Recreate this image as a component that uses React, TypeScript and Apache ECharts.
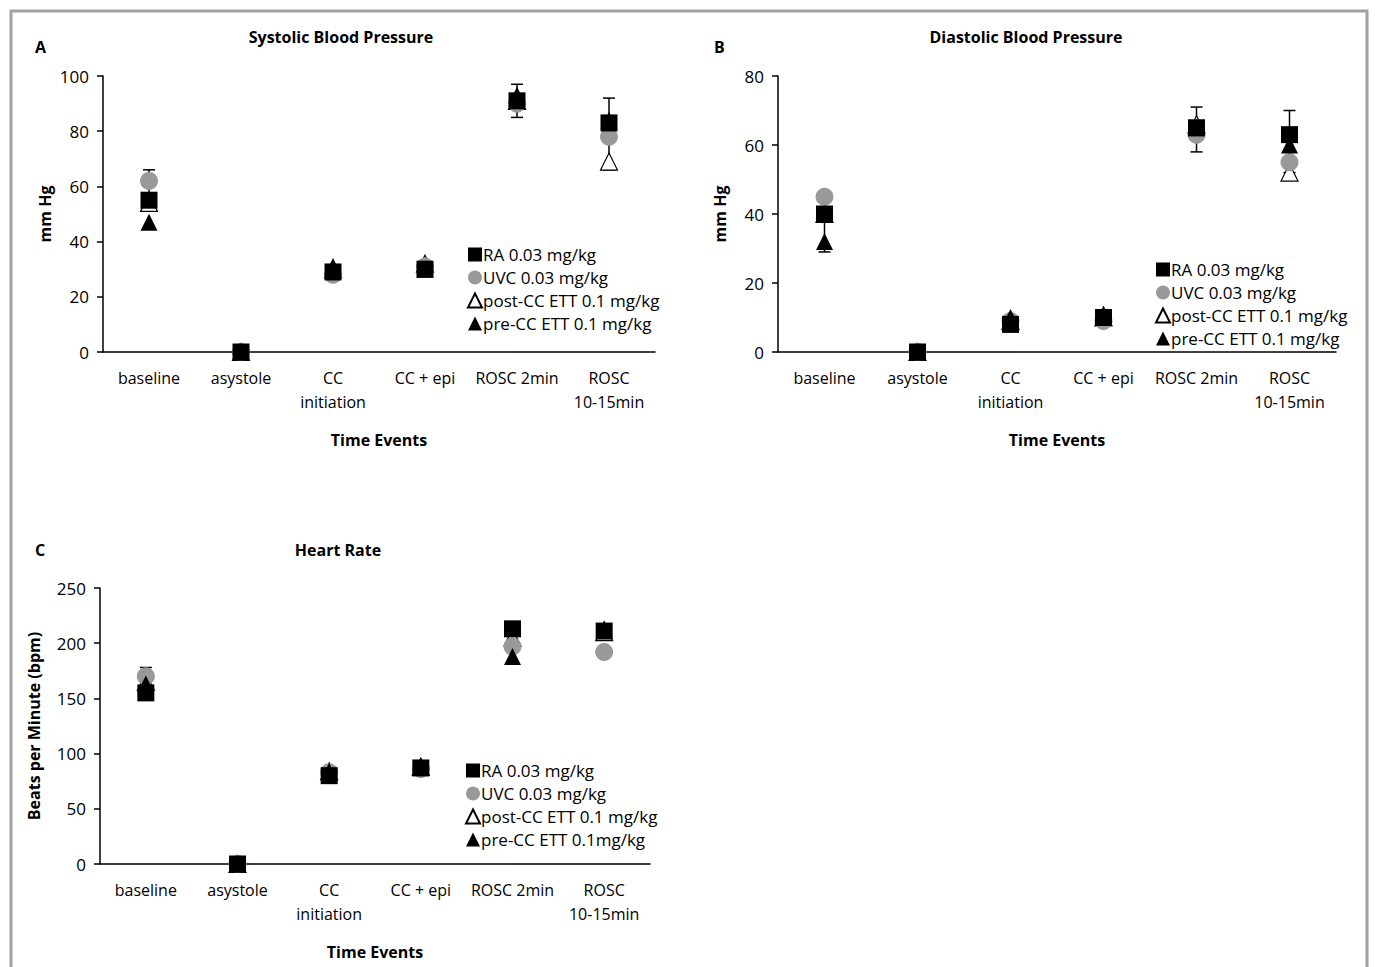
import React, { useEffect, useRef } from 'react';
import * as echarts from 'echarts';

const categories = ['baseline', 'asystole', 'CC\ninitiation', 'CC + epi', 'ROSC 2min', 'ROSC\n10-15min'];
const seriesNames = ['RA 0.03 mg/kg', 'UVC 0.03 mg/kg', 'post-CC ETT 0.1 mg/kg', 'pre-CC ETT 0.1 mg/kg'];
const seriesNamesC = ['RA 0.03 mg/kg', 'UVC 0.03 mg/kg', 'post-CC ETT 0.1 mg/kg', 'pre-CC ETT 0.1mg/kg'];

// order: RA, UVC, post-CC, pre-CC
const sysValues = [
  [55, 0, 29, 30, 91, 83],
  [62, 0, 28, 31, 90, 78],
  [54, 0, 30, 32, 91, 69],
  [47, 0, 31, 30, 93, 84],
];
const sysErr = [[0, 55, 66], [4, 85, 97], [5, 66, 92]];

const diaValues = [
  [40, 0, 8, 10, 65, 63],
  [45, 0, 9, 9, 63, 55],
  [40, 0, 9, 10, 66, 52],
  [32, 0, 10, 11, 65, 60],
];
const diaErr = [[0, 29, 40], [4, 58, 71], [5, 52, 70]];

const hrValues = [
  [155, 0, 80, 87, 213, 211],
  [170, 0, 83, 86, 197, 192],
  [165, 0, 84, 88, 205, 210],
  [163, 0, 84, 89, 188, 213],
];
const hrErr = [[0, 155, 178], [4, 200, 216]];

const sysTicks = { max: 100, interval: 20 };
const diaTicks = { max: 80, interval: 20 };
const hrTicks = { max: 250, interval: 50 };

const FONT = 'Open Sans';

const symbolStyles = [
  { symbol: 'rect', symbolSize: 17, itemStyle: { color: '#000', opacity: 1 } },
  { symbol: 'circle', symbolSize: 18, itemStyle: { color: '#999', opacity: 1 } },
  { symbol: 'triangle', symbolSize: 17, itemStyle: { color: '#fff', borderColor: '#000', borderWidth: 1.2, opacity: 1 } },
  { symbol: 'triangle', symbolSize: 17, itemStyle: { color: '#000', opacity: 1 } },
];
// drawing order (bottom to top)
const drawOrder = [2, 1, 0, 3];

const App: React.FC = () => {
  const ref = useRef<HTMLDivElement>(null);

  useEffect(() => {
    if (!ref.current) return;
    const chart = echarts.init(ref.current, null, { renderer: 'svg' });

    const grids = [
      { left: 103, top: 76, width: 552, height: 276 },
      { left: 778, top: 76, width: 558, height: 276 },
      { left: 100, top: 588, width: 550, height: 276 },
    ];
    const ticks = [sysTicks, diaTicks, hrTicks];
    const yNames = ['mm Hg', 'mm Hg', 'Beats per Minute (bpm)'];
    const values = [sysValues, diaValues, hrValues];
    const errs = [sysErr, diaErr, hrErr];
    const names = [seriesNames, seriesNames, seriesNamesC];
    const legendPos = [
      { left: 462, top: 241 },
      { left: 1150, top: 256 },
      { left: 460, top: 757 },
    ];

    const axisLine = { lineStyle: { color: '#000', width: 1.5 } };
    const labelStyle = { color: '#000', fontFamily: FONT, fontSize: 16 };

    const series: any[] = [];
    values.forEach((vals, g) => {
      series.push({
        type: 'custom',
        xAxisIndex: g,
        yAxisIndex: g,
        z: 1,
        data: errs[g],
        renderItem: (_p: any, api: any) => {
          const lo = api.coord([api.value(0), api.value(1)]);
          const hi = api.coord([api.value(0), api.value(2)]);
          const s = { stroke: '#000', lineWidth: 1.5 };
          return {
            type: 'group',
            children: [
              { type: 'line', shape: { x1: lo[0], y1: lo[1], x2: hi[0], y2: hi[1] }, style: s },
              { type: 'line', shape: { x1: lo[0] - 6, y1: lo[1], x2: lo[0] + 6, y2: lo[1] }, style: s },
              { type: 'line', shape: { x1: hi[0] - 6, y1: hi[1], x2: hi[0] + 6, y2: hi[1] }, style: s },
            ],
          };
        },
      });
      drawOrder.forEach((i, k) => {
        series.push({
          type: 'scatter',
          name: names[g][i],
          xAxisIndex: g,
          yAxisIndex: g,
          z: 2 + k,
          data: vals[i],
          ...symbolStyles[i],
        });
      });
    });

    const option: any = {
      animation: false,
      textStyle: { fontFamily: FONT },
      grid: grids,
      xAxis: grids.map((_, g) => ({
        type: 'category',
        gridIndex: g,
        data: categories,
        axisLine,
        axisTick: { lineStyle: { color: '#000', width: 1.5 }, length: 6, interval: 0 },
        axisLabel: { ...labelStyle, margin: 14, lineHeight: 24, interval: 0 },
        name: 'Time Events',
        nameLocation: 'middle',
        nameGap: 80,
        nameTextStyle: { ...labelStyle, fontWeight: 'bold' },
      })),
      yAxis: grids.map((_, g) => ({
        type: 'value',
        gridIndex: g,
        min: 0,
        max: ticks[g].max,
        interval: ticks[g].interval,
        axisLine: { show: true, ...axisLine },
        axisTick: { show: true, length: 6, lineStyle: { color: '#000', width: 1.5 } },
        splitLine: { show: false },
        axisLabel: { ...labelStyle, fontSize: 17, margin: 14 },
        name: yNames[g],
        nameLocation: 'middle',
        nameGap: g === 2 ? 58 : 50,
        nameRotate: 90,
        nameTextStyle: { ...labelStyle, fontWeight: 'bold' },
      })),
      legend: legendPos.map((p, g) => ({
        ...p,
        orient: 'vertical',
        itemGap: 6,
        itemWidth: 14,
        itemHeight: 14,
        data: names[g],
        textStyle: { ...labelStyle, fontSize: 17, padding: [0, 0, 0, -4] },
        selectedMode: false,
      })),
      title: [
        { text: 'Systolic Blood Pressure', left: 336, top: 24, textAlign: 'center' },
        { text: 'Diastolic Blood Pressure', left: 1021, top: 24, textAlign: 'center' },
        { text: 'Heart Rate', left: 333, top: 537, textAlign: 'center' },
        { text: 'A', left: 30, top: 34 },
        { text: 'B', left: 709, top: 34 },
        { text: 'C', left: 30, top: 537 },
      ].map((t) => ({ ...t, textStyle: { fontFamily: FONT, fontSize: 16, fontWeight: 'bold', color: '#000' } })),
      graphic: [
        {
          type: 'rect',
          shape: { x: 11, y: 11, width: 1356, height: 970 },
          style: { fill: 'none', stroke: '#a0a0a0', lineWidth: 3 },
        },
      ],
      series,
    };

    chart.setOption(option);
    return () => chart.dispose();
  }, []);

  return <div ref={ref} style={{ position: 'fixed', left: 0, top: 0, width: 1375, height: 967, background: '#fff' }} />;
};

export default App;
